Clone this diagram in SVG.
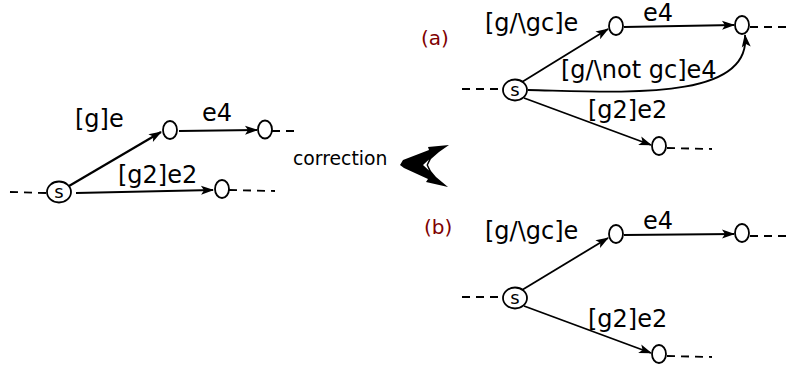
<svg xmlns="http://www.w3.org/2000/svg" width="788" height="365" viewBox="0 0 788 365">
<defs>
<marker id="arr" viewBox="-13 -5 15 10" refX="0" refY="0" markerWidth="15" markerHeight="10" orient="auto" markerUnits="userSpaceOnUse">
<path d="M1,0 L-12,-4.5 L-9,0 L-12,4.5 Z" fill="#000"/>
</marker>
</defs>
<style>
.n{fill:#fff;stroke:#000;stroke-width:1.8}
.e{fill:none;stroke:#000;stroke-width:1.8;marker-end:url(#arr)}
.d{fill:none;stroke:#000;stroke-width:1.8;stroke-dasharray:8,6}
.t{font-family:"DejaVu Sans",sans-serif;font-size:24px;fill:#000}
.s{font-family:"DejaVu Sans",sans-serif;font-size:18px;fill:#000}
.c{font-family:"DejaVu Sans",sans-serif;font-size:18.8px;fill:#000}
.lab{font-family:"DejaVu Sans",sans-serif;font-size:20px;fill:#800000}
</style>
<rect width="788" height="365" fill="#fff"/>

<g id="connectors">
<!-- left -->
<line class="d" x1="10" y1="192" x2="46" y2="193"/>
<line class="e" x1="69" y1="186" x2="161" y2="132" style="stroke-width:2.2"/>
<line class="e" x1="179" y1="131" x2="257" y2="130"/>
<line class="e" x1="76" y1="193" x2="213" y2="190"/>
<line class="d" x1="272" y1="131" x2="297" y2="131"/>
<line class="d" x1="229" y1="190" x2="275" y2="191"/>
<!-- (a) -->
<line class="d" x1="462" y1="89" x2="502" y2="89"/>
<line class="e" x1="522" y1="82" x2="608" y2="29"/>
<line class="e" x1="624" y1="27" x2="734" y2="25"/>
<path class="e" d="M528,90 C620,92 752,102 745,35"/>
<line class="e" x1="524" y1="98" x2="651" y2="145"/>
<line class="d" x1="750" y1="27" x2="788" y2="27"/>
<line class="d" x1="667" y1="148" x2="712" y2="149"/>
<!-- (b) -->
<line class="d" x1="462" y1="297" x2="502" y2="297"/>
<line class="e" x1="522" y1="290" x2="608" y2="238"/>
<line class="e" x1="624" y1="235" x2="734" y2="234"/>
<line class="e" x1="524" y1="306" x2="651" y2="353"/>
<line class="d" x1="750" y1="236" x2="788" y2="236"/>
<line class="d" x1="667" y1="356" x2="712" y2="357"/>
</g>

<g id="left-s"><ellipse class="n" cx="59" cy="192" rx="12" ry="10.5"/><text class="s" x="59" y="198" text-anchor="middle">s</text></g>
<g id="left-n1"><ellipse class="n" cx="170" cy="130" rx="7" ry="9"/></g>
<g id="left-n2"><ellipse class="n" cx="265" cy="129.5" rx="7" ry="9"/></g>
<g id="left-n3"><ellipse class="n" cx="222" cy="189" rx="7" ry="9"/></g>
<g id="left-labels">
<text class="t" x="75" y="127">[g]e</text>
<text class="t" x="202" y="121">e4</text>
<text class="t" x="118" y="183">[g2]e2</text>
</g>

<g id="correction">
<text class="c" x="293" y="165">correction</text>
<polygon points="449,145 428,147 429,150 403,160 400,165 404,168 428,179 426,182 448,187 436,177 431,171 428,165 431,159 439,152" fill="#000"/>
<polygon points="423,165 429,159.5 426.5,165 429,170.5" fill="#fff"/>
</g>

<g id="a-s"><ellipse class="n" cx="515" cy="90" rx="12" ry="10.5"/><text class="s" x="515" y="96" text-anchor="middle">s</text></g>
<g id="a-n1"><ellipse class="n" cx="616" cy="26" rx="7" ry="9"/></g>
<g id="a-n2"><ellipse class="n" cx="742" cy="25" rx="7" ry="9"/></g>
<g id="a-n3"><ellipse class="n" cx="659" cy="146" rx="7" ry="9"/></g>
<g id="a-labels">
<text class="lab" x="421" y="45">(a)</text>
<text class="t" x="485" y="31">[g/\gc]e</text>
<text class="t" x="643" y="21">e4</text>
<text class="t" x="561" y="78">[g/\not gc]e4</text>
<text class="t" x="588" y="118">[g2]e2</text>
</g>

<g id="b-s"><ellipse class="n" cx="515" cy="298" rx="12" ry="10.5"/><text class="s" x="515" y="304" text-anchor="middle">s</text></g>
<g id="b-n1"><ellipse class="n" cx="616" cy="234" rx="7" ry="9"/></g>
<g id="b-n2"><ellipse class="n" cx="742" cy="233" rx="7" ry="9"/></g>
<g id="b-n3"><ellipse class="n" cx="659" cy="354" rx="7" ry="9"/></g>
<g id="b-labels">
<text class="lab" x="424" y="234">(b)</text>
<text class="t" x="485" y="239">[g/\gc]e</text>
<text class="t" x="643" y="229">e4</text>
<text class="t" x="588" y="327">[g2]e2</text>
</g>
</svg>
